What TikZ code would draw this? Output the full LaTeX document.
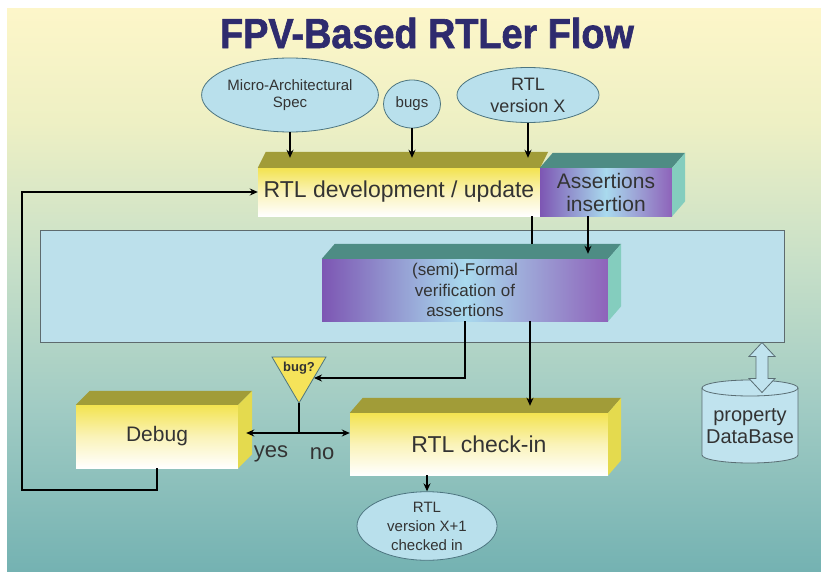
\documentclass[tikz,border=0pt]{standalone}
\usepackage{fontspec}
\setmainfont{Liberation Sans}
\newfontfamily\titlefont[FakeBold=1.5,FakeStretch=0.9]{Liberation Sans Bold}
\usetikzlibrary{arrows.meta,positioning,calc,shapes.geometric}

\definecolor{bgtop}{HTML}{FDF6C9}
\definecolor{bgup}{HTML}{EEF0C4}
\definecolor{bgmid}{HTML}{C6DFC8}
\definecolor{bglow}{HTML}{A2CCC4}
\definecolor{bgbot}{HTML}{74B2B2}
\definecolor{titleblue}{HTML}{2E2B6E}
\definecolor{txtgray}{HTML}{333333}
\definecolor{ovalfill}{HTML}{B9E0EC}
\definecolor{ovalline}{HTML}{4D7580}
\definecolor{yelfront}{HTML}{F3E350}
\definecolor{yelmid}{HTML}{FAF3B8}
\definecolor{yelside}{HTML}{E4DA4E}
\definecolor{olive}{HTML}{A19C38}
\definecolor{purl}{HTML}{7D56B3}
\definecolor{purm}{HTML}{A9DAEE}
\definecolor{purr}{HTML}{8E63BA}
\definecolor{tealtop}{HTML}{4E8C84}
\definecolor{tealside}{HTML}{84CDBE}
\definecolor{bandblue}{HTML}{BCE0EB}
\definecolor{bandline}{HTML}{5E6B6E}
\definecolor{trifill}{HTML}{F5E35A}
\definecolor{dbfill}{HTML}{C0E3EE}
\definecolor{dbline}{HTML}{5A6E74}

\pgfdeclareverticalshading{bgshade}{100bp}{color(0bp)=(bgbot); color(25bp)=(bgbot);
  color(40bp)=(bglow); color(52bp)=(bgmid); color(65bp)=(bgup); color(75bp)=(bgtop); color(100bp)=(bgtop)}

% top and side faces of a box: node, top colour, side colour, dx, dy
\newcommand{\boxfaces}[5]{%
  \path[fill=#2] (#1.north west) -- ++(#4,-#5) -- ($(#1.north east)+(#4,-#5)$) -- (#1.north east) -- cycle;
  \path[fill=#3] (#1.north east) -- ++(#4,-#5) -- ($(#1.south east)+(#4,-#5)$) -- (#1.south east) -- cycle;}

\begin{document}
\begin{tikzpicture}[x=1pt, y=-1pt, >={Stealth[length=8pt,width=7pt]},
  oval/.style={ellipse, draw=ovalline, line width=0.8pt, fill=ovalfill, inner sep=0pt, align=center, text=txtgray},
  yelbox/.style={rectangle, inner sep=0pt, top color=yelfront, bottom color=white, middle color=yelmid, align=center, text=txtgray},
  purbox/.style={rectangle, inner sep=0pt, left color=purl, right color=purr, middle color=purm, align=center, text=txtgray},
  flow/.style={line width=1.8pt, draw=black},
  lbl/.style={text=txtgray, font=\fontsize{22}{24}\selectfont}
  ]
\useasboundingbox (0,0) rectangle (821,572);
\fill[shading=bgshade] (7,9) rectangle (821,572);

\node[font=\titlefont\fontsize{42}{44}\selectfont, text=titleblue] (title) at (427,33) {FPV-Based RTLer Flow};

% inputs
\node[oval, minimum width=170pt, minimum height=74pt, font=\fontsize{15}{17}\selectfont] (spec) at (290,95) {Micro-Architectural\\Spec};
\node[oval, minimum width=57pt, minimum height=48pt, font=\fontsize{15}{17}\selectfont] (bugs) at (412,104) {bugs};
\node[oval, minimum width=142pt, minimum height=55pt, font=\fontsize{18}{22}\selectfont] (verx) at (528,95) {RTL\\version X};

% development
\node[yelbox, minimum width=282pt, minimum height=48pt, font=\fontsize{23}{25}\selectfont] (dev) at (399,192) {RTL development / update};
\node[purbox, minimum width=132pt, minimum height=48pt, font=\fontsize{21}{23}\selectfont] (asrt) at (606,192) {Assertions\\insertion};
\boxfaces{dev}{olive}{none}{8}{16}
\boxfaces{asrt}{tealtop}{tealside}{13}{15}

% formal band
\node[rectangle, draw=bandline, line width=1pt, fill=bandblue, minimum width=744pt, minimum height=112pt] (band) at (412,286) {};
\node[purbox, minimum width=286pt, minimum height=62pt, font=\fontsize{17}{20.5}\selectfont] (formal) at (465,290) {(semi)-Formal\\verification of\\assertions};
\boxfaces{formal}{tealtop}{tealside}{13}{15}

% decision and results
\coordinate (bugc) at (299,368);
\coordinate (apex) at ($(bugc)+(0,35)$);
\path[fill=trifill, draw=ovalline, line width=0.8pt] ($(bugc)+(-27,-11)$) -- ($(bugc)+(27,-11)$) -- (apex) -- cycle;
\node[text=txtgray, font=\bfseries\fontsize{13}{14}\selectfont] (bugq) at (bugc) {bug?};
\node[yelbox, minimum width=162pt, minimum height=63pt, font=\fontsize{21}{23}\selectfont] (debug) at (157,436.5) {Debug};
\node[yelbox, minimum width=258pt, minimum height=62pt, font=\fontsize{23}{25}\selectfont] (checkin) at (479,444) {RTL check-in};
\boxfaces{debug}{olive}{yelside}{14}{14}
\boxfaces{checkin}{olive}{yelside}{13}{15}
\node[oval, minimum width=140pt, minimum height=60pt, font=\fontsize{15}{19}\selectfont] (verxi) at (427,526) {RTL\\version X+1\\checked in};
\node[lbl] (yeslbl) at (271,454) {yes};
\node[lbl] (nolbl) at (322,454) {no};

% database
\path[fill=dbfill, draw=dbline, line width=0.8pt] (702,388) -- (702,455) arc[start angle=180, end angle=0, x radius=48, y radius=8] -- (798,388);
\path[fill=dbfill, draw=dbline, line width=0.8pt] (750,388) ellipse[x radius=48, y radius=8];
\node[text=txtgray, align=center, font=\fontsize{20}{22}\selectfont] (db) at (750,426) {property\\DataBase};
\coordinate (linktop) at (band.south -| 762,0);
\path[fill=dbfill, draw=dbline, line width=0.8pt] (linktop) -- ++(13,14) -- ++(-7,0) -- ++(0,22) -- ++(7,0) -- ++(-13,14)
  -- ++(-13,-14) -- ++(7,0) -- ++(0,-22) -- ++(-7,0) -- cycle;

% connectors
\coordinate (devtop) at ($(dev.north)+(0,-10)$);
\draw[flow,->] (spec.south) -- (spec.south |- devtop);
\draw[flow,->] (bugs.south) -- (bugs.south |- devtop);
\draw[flow,->] (verx.south) -- (verx.south |- devtop);

\coordinate (devout) at ($(dev.south east)+(-8,0)$);
\coordinate (formaltop) at ($(formal.north)+(0,-15)$);
\draw[flow] (devout) -- (devout |- formaltop);
\coordinate (asrtout) at ($(asrt.south)+(-18,0)$);
\coordinate (formalface) at ($(formal.north)+(0,-5)$);
\draw[flow,->] (asrtout) -- (asrtout |- formalface);

\draw[flow,->] (formal.south) |- ($(bugq)+(15,10)$);
\coordinate (fmout) at ($(formal.south)+(65,0)$);
\coordinate (chkface) at ($(checkin.north)+(0,-7)$);
\draw[flow,->] (fmout) -- (fmout |- chkface);

\coordinate (fork) at ($(apex)+(0,30)$);
\draw[flow] (apex) -- (fork);
\draw[flow,->] (fork) -- ($(fork -| debug.east)+(8,0)$);
\draw[flow,->] (fork) -- (fork -| checkin.west);

\coordinate (loopc) at ($(debug.south)+(-135,22)$);
\draw[flow,->] (debug.south) |- (loopc) |- (dev.west);

\draw[flow,->] (checkin.south -| verxi.north) -- (verxi.north);

\end{tikzpicture}
\end{document}
